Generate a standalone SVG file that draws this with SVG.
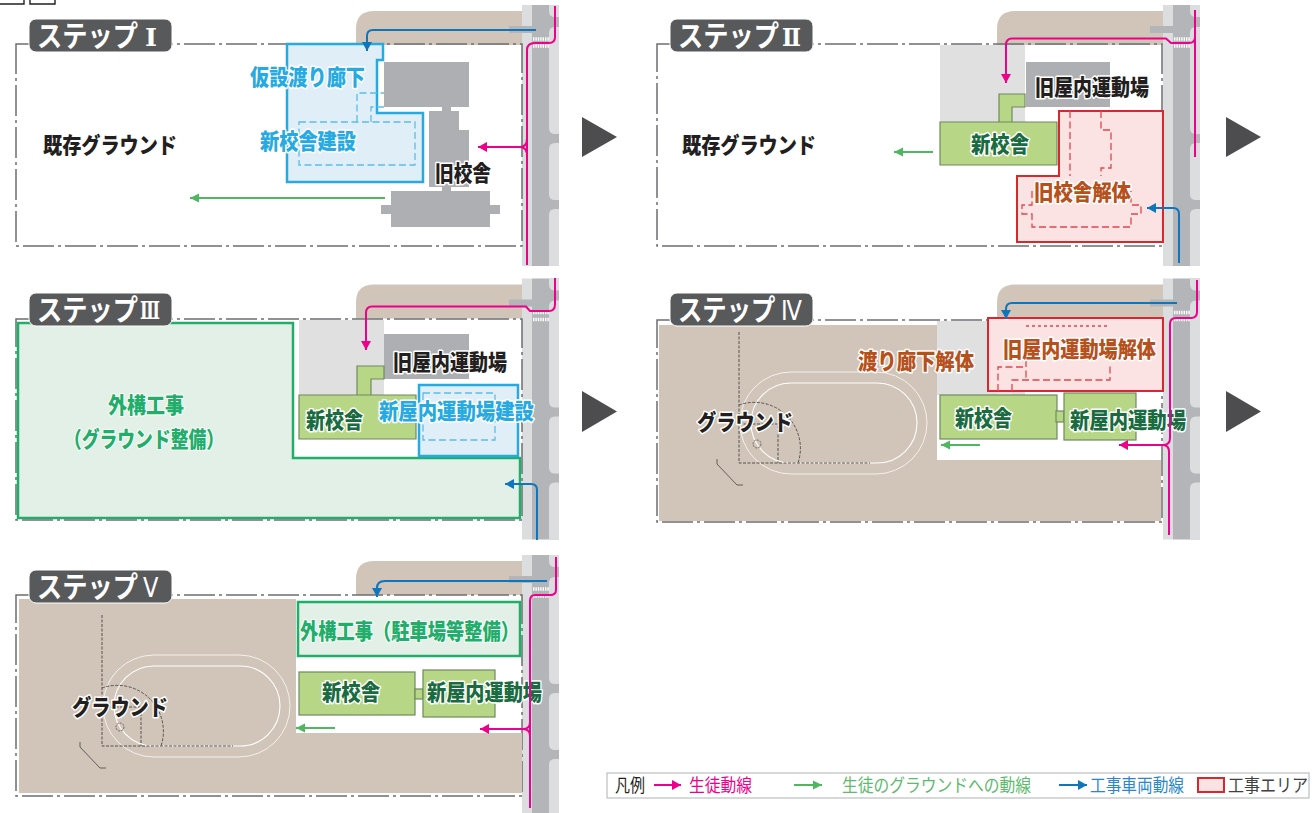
<svg xmlns="http://www.w3.org/2000/svg" xmlns:xlink="http://www.w3.org/1999/xlink" width="1313" height="813" viewBox="0 0 1313 813">
<style>
text{font-family:"Noto Sans CJK JP","Noto Sans",sans-serif;font-weight:900;font-size:22px;paint-order:stroke;stroke-linejoin:round}
.k{fill:#231f20;stroke:#fff;stroke-width:3}
.b{fill:#27aae1;stroke:#fff;stroke-width:3}
.g{fill:#1a6b3f;stroke:#fff;stroke-width:3}
.r{fill:#b5511d;stroke:#fff;stroke-width:3}
.e{fill:#22ae6a;stroke:#fff;stroke-width:2}
.s{fill:#fff;font-size:29px;font-weight:700}
.n{fill:#fff;font-size:25px;font-family:"DejaVu Serif",serif;font-weight:700}
.m{fill:#fff;font-size:27px;font-family:"Liberation Sans",sans-serif;font-weight:400}
.l{font-size:18px;font-weight:400}
.frame{fill:none;stroke:#6d6e71;stroke-width:1.5;stroke-dasharray:31 4 3 4}
.badge{fill:#58595b;stroke:#fff;stroke-width:1}
.bld{fill:#aeafb2}
.gry{fill:#e0e0e1}
.tan{fill:#d1c5b9}
.nw{fill:#b7d786;stroke:#6f8a5f;stroke-width:1.2}
.zb{fill:#e0eef8;stroke:#27aae1;stroke-width:2.5}
.zr{fill:#fbe2e3;stroke:#d9272e;stroke-width:2}
.zg{fill:#e2f0e7;stroke:#22ae6a;stroke-width:2.5}
.db{fill:none;stroke:#5dbde6;stroke-width:1.3;stroke-dasharray:7 3.5}
.dr{fill:none;stroke:#e2474d;stroke-width:1.3;stroke-dasharray:7 3.5}
.pk{fill:none;stroke:#ec008c;stroke-width:2}
.bl{fill:none;stroke:#0f75bc;stroke-width:2}
.gn{fill:none;stroke:#4fb75f;stroke-width:2}
.tri{fill:#4d4d4f}
.tk{fill:none;stroke:#f4f1ec;stroke-width:1}
.dsh{fill:none;stroke:#55524f;stroke-width:1;stroke-dasharray:3 1.5}
.sw{fill:#dcddde}
.rd{fill:#b4b5b8}
</style>
<defs>
<marker id="ab" markerUnits="userSpaceOnUse" markerWidth="11" markerHeight="11" refX="10" refY="5.500" orient="auto"><path d="M1 .5L10 5.500L1 10.500Z" fill="#0f75bc"/></marker>
<marker id="apk" markerUnits="userSpaceOnUse" markerWidth="11" markerHeight="11" refX="10" refY="5.500" orient="auto"><path d="M1 .5L10 5.500L1 10.500Z" fill="#ec008c"/></marker>
<marker id="ag" markerUnits="userSpaceOnUse" markerWidth="11" markerHeight="11" refX="10" refY="5.500" orient="auto"><path d="M1 1L10 5.500L1 10Z" fill="#4fb75f"/></marker>
<g id="road">
<path class="tan" d="M527 11H374Q356 11 356 29V45H527Z"/>
<rect class="sw" x="522" y="5" width="10" height="261"/>
<rect class="rd" x="532" y="5" width="27" height="261"/>
<rect class="rd" x="509" y="26" width="23" height="7"/>
<path class="sw" d="M549 5H559V17H555Q549 17 549 11ZM559 27H555Q549 27 549 33V128Q549 134 555 134H559ZM559 143H555Q549 143 549 149V194Q549 200 555 200H559ZM559 209H555Q549 209 549 215V266H559Z"/>
<path d="M533 39H549M533 46H549" stroke="#fff" stroke-width="3.500" stroke-dasharray="1.400 1"/>
</g>
<g id="track">
<rect x="740" y="372" width="187" height="102" rx="51" class="tk"/>
<rect x="751" y="383" width="166" height="80" rx="40" class="tk" style="stroke-width:1.100;stroke:#fff"/>
<path class="dsh" d="M739 332V463H870M739 424H778V463M739 405A46 46 0 0 1 798 463"/>
<circle cx="757" cy="444" r="4" fill="none" stroke="#55524f" stroke-width="0.8" stroke-dasharray="2 1"/>
<path d="M717 459V464L737 485H743" fill="none" stroke="#55524f" stroke-width="0.9"/>
</g>
</defs>

<path d="M0 4H24V0M30 0V4H55V0" fill="none" stroke="#231f20" stroke-width="1.4" id="heading"/>

<g id="step1">
<use xlink:href="#road" href="#road"/>
<rect class="frame" x="16" y="44" width="506" height="202"/>
<g id="s1-old-building"><path class="bld" d="M384 62H469V107H451V111H459V130H469V187H451V191H490V205H500V214H490V227H391V214H381V205H391V191H442V187H429V111H442V107H384Z"/></g>
<g id="s1-zone"><path class="zb" d="M287 44H383V60H377V113H423V182H287Z"/>
<path class="db" d="M299 122H415V165H299ZM357 122V93H384M371 122V107H384"/></g>
<g id="s1-badge"><rect class="badge" x="29" y="19" width="143" height="33" rx="7"/><text class="s" transform="translate(37 47) scale(.87 1)">ステップ</text><text class="n" x="145" y="46" textLength="12" lengthAdjust="spacingAndGlyphs">Ⅰ</text></g>
<text class="k" x="43" y="153" textLength="134" lengthAdjust="spacingAndGlyphs">既存グラウンド</text>
<text class="b" x="250" y="85" textLength="115" lengthAdjust="spacingAndGlyphs">仮設渡り廊下</text>
<text class="b" x="260" y="149" textLength="96" lengthAdjust="spacingAndGlyphs">新校舎建設</text>
<text class="k" x="435" y="181" textLength="56" lengthAdjust="spacingAndGlyphs">旧校舎</text>
</g>

<g id="step2">
<use xlink:href="#road" href="#road" x="641"/>
<rect class="frame" x="657" y="44" width="505" height="202"/>
<rect class="gry" x="940" y="45" width="85" height="77"/>
<g id="s2-gym"><rect class="bld" x="1026" y="62" width="84" height="45"/></g>
<g id="s2-new"><path class="nw" d="M999 122V94H1025V107H1012V122ZM940 122H1057V165H940Z"/></g>
<g id="s2-zone"><path class="zr" d="M1059 111H1163V242H1017V176H1059Z"/>
<path class="dr" d="M1070 111V176M1101 111V130H1111V168H1101V176M1032 191V205H1022V214H1032V227H1131V214H1141V205H1131V191"/></g>
<g id="s2-badge"><rect class="badge" x="670" y="19" width="143" height="33" rx="7"/><text class="s" transform="translate(678 47) scale(.87 1)">ステップ</text><text class="n" x="782" y="46" textLength="19" lengthAdjust="spacingAndGlyphs">Ⅱ</text></g>
<text class="k" x="682" y="153" textLength="134" lengthAdjust="spacingAndGlyphs">既存グラウンド</text>
<text class="g" x="971" y="152" textLength="58" lengthAdjust="spacingAndGlyphs">新校舎</text>
<text class="k" x="1035" y="95" textLength="114" lengthAdjust="spacingAndGlyphs">旧屋内運動場</text>
<text class="r" x="1034" y="200" textLength="97" lengthAdjust="spacingAndGlyphs">旧校舎解体</text>
</g>

<g id="step3">
<use xlink:href="#road" href="#road" y="273.500"/>
<rect class="frame" x="16" y="319" width="506" height="201"/>
<g id="s3-zone-green"><path class="zg" d="M18 323H293V458H520V518H18Z"/></g>
<rect class="gry" x="299" y="320" width="85" height="75"/>
<g id="s3-gym"><rect class="bld" x="384" y="334" width="85" height="45"/></g>
<g id="s3-new"><path class="nw" d="M357 395V366H384V379H371V395ZM299 395H416V439H299Z"/></g>
<g id="s3-zone-blue"><rect class="zb" x="419" y="385" width="99" height="71"/><rect class="db" x="423" y="393" width="72" height="47"/></g>
<g id="s3-badge"><rect class="badge" x="29" y="293" width="143" height="33" rx="7"/><text class="s" transform="translate(37 321) scale(.87 1)">ステップ</text><text class="n" x="140" y="319" textLength="20" lengthAdjust="spacingAndGlyphs">Ⅲ</text></g>
<text class="e" x="108" y="413" textLength="76" lengthAdjust="spacingAndGlyphs">外構工事</text>
<text class="e" x="64" y="447" textLength="160" lengthAdjust="spacingAndGlyphs">（グラウンド整備）</text>
<text class="k" x="393" y="370" textLength="114" lengthAdjust="spacingAndGlyphs">旧屋内運動場</text>
<text class="g" x="306" y="428" textLength="57" lengthAdjust="spacingAndGlyphs">新校舎</text>
<text class="b" x="379" y="419" textLength="155" lengthAdjust="spacingAndGlyphs">新屋内運動場建設</text>
</g>

<g id="step4">
<use xlink:href="#road" href="#road" x="641" y="273.500"/>
<rect class="frame" x="657" y="320" width="505" height="202"/>
<path class="tan" d="M659 325H937V460H1161V521H659Z"/>
<rect class="gry" x="937" y="321" width="88" height="74"/>
<use xlink:href="#track" href="#track"/>
<g id="s4-zone"><rect x="998" y="391" width="14" height="4" fill="#fbe2e3"/><rect class="zr" x="988" y="318" width="175" height="73"/>
<path class="dr" d="M998 391V367H1026M1026 360V380M1012 391V380H1110V363"/>
<path class="dr" style="stroke-dasharray:3 3" d="M1026 326H1110"/></g>
<g id="s4-new"><rect class="nw" x="940" y="395" width="117" height="44"/></g>
<rect class="nw" x="1056" y="411" width="8" height="11"/>
<g id="s4-gym"><rect class="nw" x="1064" y="393" width="72" height="47"/></g>
<g id="s4-badge"><rect class="badge" x="670" y="293" width="143" height="33" rx="7"/><text class="s" transform="translate(678 321) scale(.84 1)">ステップ</text><text class="m" x="781" y="320" textLength="21" lengthAdjust="spacingAndGlyphs">Ⅳ</text></g>
<text class="k" x="697" y="430" textLength="96" lengthAdjust="spacingAndGlyphs">グラウンド</text>
<text class="r" x="858" y="369" textLength="116" lengthAdjust="spacingAndGlyphs">渡り廊下解体</text>
<text class="r" x="1003" y="357" textLength="153" lengthAdjust="spacingAndGlyphs">旧屋内運動場解体</text>
<text class="g" x="955" y="426" textLength="57" lengthAdjust="spacingAndGlyphs">新校舎</text>
<text class="g" x="1070" y="428" textLength="116" lengthAdjust="spacingAndGlyphs">新屋内運動場</text>
</g>

<g id="step5">
<use xlink:href="#road" href="#road" y="550"/>
<rect class="frame" x="16" y="595" width="506" height="201"/>
<path class="tan" d="M19 599H296V733H522V793H19Z"/>
<use xlink:href="#track" href="#track" x="-637" y="283"/>
<g id="s5-zone"><rect class="zg" x="298" y="602" width="222" height="54"/></g>
<g id="s5-new"><rect class="nw" x="299" y="672" width="116" height="43"/></g>
<rect class="nw" x="415" y="689" width="8" height="10"/>
<g id="s5-gym"><rect class="nw" x="423" y="670" width="72" height="47"/></g>
<g id="s5-badge"><rect class="badge" x="29" y="570" width="143" height="33" rx="7"/><text class="s" transform="translate(37 598) scale(.87 1)">ステップ</text><text class="m" x="143" y="597" textLength="15" lengthAdjust="spacingAndGlyphs">Ⅴ</text></g>
<text class="k" x="72" y="715" textLength="96" lengthAdjust="spacingAndGlyphs">グラウンド</text>
<text class="e" x="300" y="639" textLength="219" lengthAdjust="spacingAndGlyphs">外構工事（駐車場等整備）</text>
<text class="g" x="322" y="700" textLength="58" lengthAdjust="spacingAndGlyphs">新校舎</text>
<text class="g" x="427" y="700" textLength="115" lengthAdjust="spacingAndGlyphs">新屋内運動場</text>
</g>

<g id="connectors">
<path class="pk" d="M555 6V37Q555 43 549 43H535Q527 43 527 50V265M527 138Q527 147 520 147M527 156Q527 147 520 147H478" marker-end="url(#apk)"/>
<path class="bl" d="M536 30H373Q367 30 367 36V51" marker-end="url(#ab)"/>
<path class="gn" d="M385 198H190" marker-end="url(#ag)"/>

<path class="pk" d="M1195 10V157M1195 37Q1195 43 1189 43H1171L1166 38.500H1012Q1006 38.500 1006 45V83" marker-end="url(#apk)"/>
<path class="bl" d="M1179 263V214Q1179 208 1173 208H1147" marker-end="url(#ab)"/>
<path class="gn" d="M933 152H894" marker-end="url(#ag)"/>

<path class="pk" d="M555 278V304Q555 311 549 311H530L526 306.500H372Q366 306.500 366 313V350" marker-end="url(#apk)"/>
<path class="bl" d="M537 540V490Q537 484 531 484H505" marker-end="url(#ab)"/>

<path class="pk" d="M1197 280V312Q1197 318 1191 318H1176Q1170 318 1170 324V438Q1170 445 1163 445H1119" marker-end="url(#apk)"/>
<path class="pk" d="M1169 535V452Q1169 445 1163 445"/>
<path class="bl" d="M1177 303H1012Q1006 303 1006 309V319" marker-end="url(#ab)"/>
<path class="gn" d="M980 445H941" marker-end="url(#ag)"/>

<path class="pk" d="M556 557V590Q556 595 550 595H535Q530 595 530 601V808"/>
<path class="pk" d="M530 722Q530 729 523 729H480" marker-end="url(#apk)"/>
<path class="pk" d="M530 736Q530 729 523 729"/>
<path class="bl" d="M547 581H385Q377 581 377 588V597" marker-end="url(#ab)"/>
<path class="gn" d="M335 728H296" marker-end="url(#ag)"/>
</g>

<g id="step-arrows">
<path class="tri" d="M582 117L617 137L582 157Z"/>
<path class="tri" d="M1226 117L1261 137L1226 157Z"/>
<path class="tri" d="M582 391L617 411.500L582 432Z"/>
<path class="tri" d="M1226 391L1261 411.500L1226 432Z"/>
</g>

<g id="legend">
<rect x="607" y="773" width="702" height="25" fill="#fff" stroke="#bcbec0" stroke-width="1.200"/>
<text class="l" x="615" y="792" fill="#231f20" textLength="30" lengthAdjust="spacingAndGlyphs">凡例</text>
<path class="pk" d="M654 785H681" marker-end="url(#apk)"/>
<text class="l" x="689" y="792" fill="#ec008c" textLength="63" lengthAdjust="spacingAndGlyphs">生徒動線</text>
<path class="gn" d="M794 785H822" marker-end="url(#ag)"/>
<text class="l" x="842" y="792" fill="#5dba6e" textLength="189" lengthAdjust="spacingAndGlyphs">生徒のグラウンドへの動線</text>
<path class="bl" d="M1059 785H1087" marker-end="url(#ab)"/>
<text class="l" x="1090" y="792" fill="#2b87c8" textLength="94" lengthAdjust="spacingAndGlyphs">工事車両動線</text>
<rect class="zr" x="1198" y="778" width="26" height="14"/>
<text class="l" transform="translate(1228 792) scale(.89 1)" fill="#414042">工事エリア</text>
</g>
</svg>
